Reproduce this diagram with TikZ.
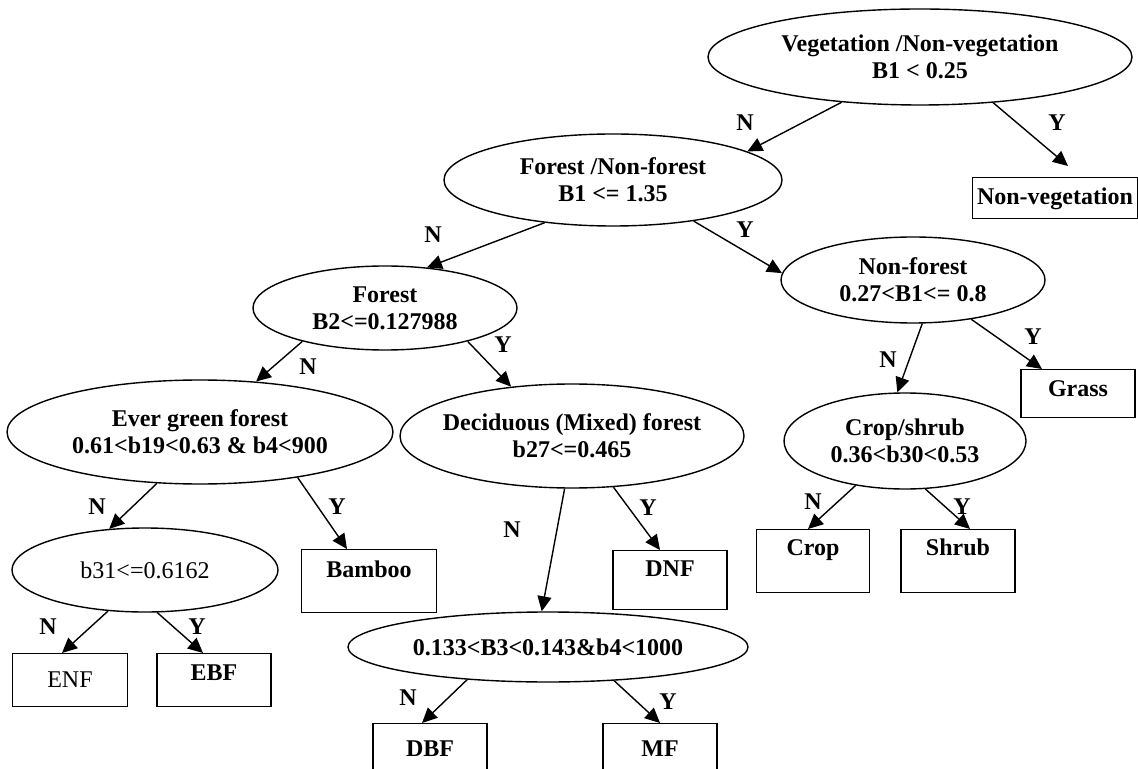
\documentclass[tikz,border=0pt]{standalone}
\usepackage{fontspec}
\setmainfont{Liberation Serif}
\usetikzlibrary{arrows.meta,positioning,calc,shapes.geometric}

\begin{document}
\begin{tikzpicture}[x=0.5pt, y=-0.5pt,
    every node/.style={font=\fontsize{12}{13.5}\selectfont\bfseries},
    test/.style={draw, ellipse, inner sep=0pt, align=center, line width=0.7pt},
    leaf/.style 2 args={draw, rectangle, anchor=north, inner sep=0pt, minimum width=57pt,
        text height=#1, text depth=#2, line width=0.7pt},
    arr/.style={-{Triangle[length=7.5pt,width=7pt]}, line width=0.7pt}]
    \useasboundingbox (0,0) rectangle (1138,769);

    % Decision tests
    \node[test, minimum width=212pt, minimum height=48pt] (veg) at (920,57) {Vegetation /Non-vegetation\\B1 < 0.25};
    \node[test, minimum width=169pt, minimum height=46pt] (fnf) at (613,180) {Forest /Non-forest\\B1 <= 1.35};
    \node[test, minimum width=132pt, minimum height=43pt] (nonf) at (913,280) {Non-forest\\0.27<B1<= 0.8};
    \node[test, minimum width=132pt, minimum height=42pt] (forest) at (385,308) {Forest\\B2<=0.127988};
    \node[test, minimum width=121pt, minimum height=48pt] (crsh) at (905,441) {Crop/shrub\\0.36<b30<0.53};
    \node[test, minimum width=193pt, minimum height=52pt] (ever) at (200,432) {Ever green forest\\0.61<b19<0.63 \& b4<900};
    \node[test, minimum width=172pt, minimum height=52pt, inner xsep=-4pt] (dec) at (572,436) {Deciduous (Mixed) forest\\b27<=0.465};
    \node[test, minimum width=133pt, minimum height=42pt, font=\fontsize{12}{13.5}\selectfont] (b31) at (145,570) {b31<=0.6162};
    \node[test, minimum width=200pt, minimum height=35pt] (thr) at (548,647) {0.133<B3<0.143\&b4<1000};

    % Classes
    \node[leaf={13.5pt}{7pt}, minimum width=82.5pt] (nonveg) at (1055,177) {Non-vegetation};
    \node[leaf={13.5pt}{10.5pt}] (grass) at (1078,369) {Grass};
    \node[leaf={13pt}{18.5pt}, minimum width=56.5pt] (crop) at (813,529) {Crop};
    \node[leaf={13pt}{18.5pt}] (shrub) at (958,529) {Shrub};
    \node[leaf={14pt}{17.5pt}, minimum width=67.5pt] (bamboo) at (369,549) {Bamboo};
    \node[leaf={13pt}{16.5pt}] (dnf) at (670,550) {DNF};
    \node[leaf={17pt}{9.5pt}, minimum width=57.5pt, font=\fontsize{12}{13.5}\selectfont] (enf) at (70,653) {ENF};
    \node[leaf={13.5pt}{13pt}] (ebf) at (214,653) {EBF};
    \node[leaf={16.5pt}{6.5pt}] (dbf) at (430,723) {DBF};
    \node[leaf={16.5pt}{6.5pt}] (mf) at (660,723) {MF};

    % Branches
    \draw[arr] (veg.210) -- (fnf.12);
    \draw[arr] (veg.328) -- ($(nonveg.north)+(13,-11)$);
    \draw[arr] (fnf.212) -- (forest.44);
    \draw[arr] (fnf.333) -- (nonf.177);
    \draw[arr] (forest.202) -- (ever.42);
    \draw[arr] (forest.338) -- (dec.141);
    \draw[arr] (nonf.282) -- (crsh.99);
    \draw[arr] (nonf.326) -- ($(grass.north)+(-36,0)$);
    \draw[arr] (crsh.222) -- ($(crop.north)+(-5,0)$);
    \draw[arr] (crsh.293) -- ($(shrub.north)+(12,0)$);
    \draw[arr] (ever.230) -- (b31.131);
    \draw[arr] (ever.335) -- ($(bamboo.north)+(-22,0)$);
    \draw[arr] (dec.262) -- (thr.100);
    \draw[arr] (dec.309) -- ($(dnf.north)+(-10,0)$);
    \draw[arr] (thr.202) -- ($(dbf.north)+(-8,0)$);
    \draw[arr] (thr.333) -- (mf.north);
    \draw[arr] (b31.228) -- ($(enf.north)+(-8,0)$);
    \draw[arr] (b31.286) -- ($(ebf.north)+(-11,0)$);

    % Yes / No labels
    \node (n1) at (745,123) {N};
    \node (y1) at (1057,123) {Y};
    \node (n2) at (433,235) {N};
    \node (y2) at (745,230) {Y};
    \node (n3) at (308,367) {N};
    \node (y3) at (503,345) {Y};
    \node (n4) at (888,360) {N};
    \node (y4) at (1033,337) {Y};
    \node (n5) at (813,502) {N};
    \node (y5) at (962,507) {Y};
    \node (n6) at (97,507) {N};
    \node (y6) at (337,507) {Y};
    \node (n7) at (512,530) {N};
    \node (y7) at (648,508) {Y};
    \node (n8) at (408,698) {N};
    \node (y8) at (668,702) {Y};
    \node (n9) at (48,627) {N};
    \node (y9) at (197,627) {Y};
\end{tikzpicture}
\end{document}
